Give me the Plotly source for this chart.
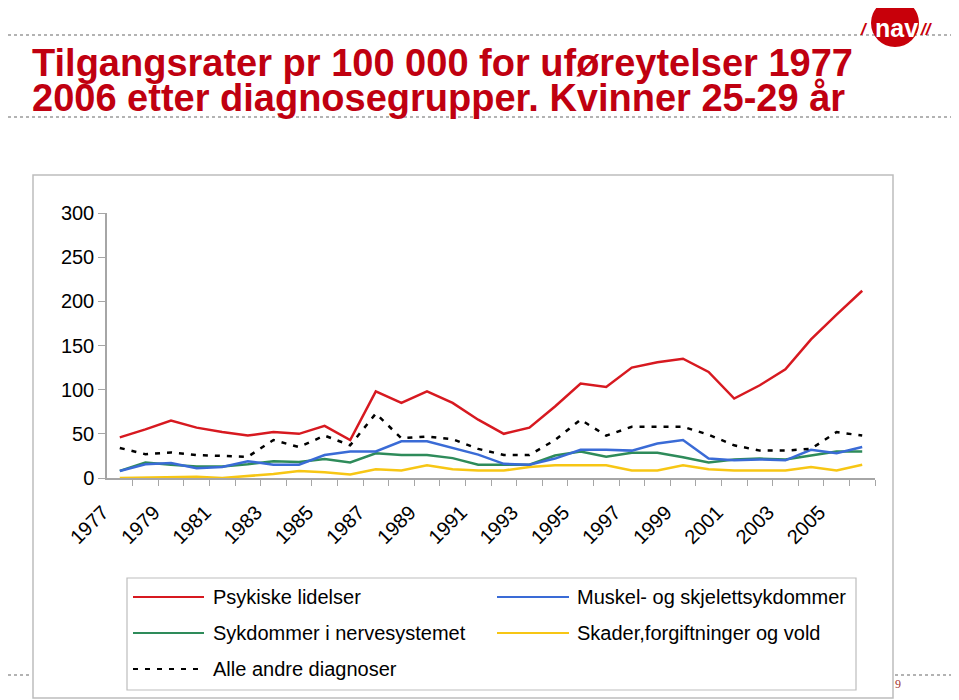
import plotly.graph_objects as go

years = list(range(1977, 2007))
psykiske = [46, 55, 65, 57, 52, 48, 52, 50, 59, 43, 98, 85, 98, 85, 66, 50, 57, 81, 107, 103,
            125, 131, 135, 120, 90, 105, 123, 157, 185, 212]
muskel = [8, 15.5, 17, 11, 12.5, 19, 15, 15, 26, 30, 30, 41.5, 41.5, 34, 26.5, 16, 15, 22, 32, 32,
          31, 39, 43, 22, 20, 21, 20, 32, 28, 35]
nerve = [8, 17.5, 15, 13, 13, 15.5, 19, 18, 21.5, 17.5, 28, 26, 26, 22.5, 15, 15, 15, 25.5, 30, 24,
         28.5, 28.5, 23.5, 17.5, 21, 22, 21, 25.5, 30, 30]
skader = [0, 0.5, 1.5, 1.5, 0, 2, 4.5, 8, 6.5, 4, 10, 8.5, 14.5, 10, 8.5, 8.5, 12.5, 14.5, 14.5, 14.5,
          8.5, 8.5, 14.5, 10, 8.5, 8.5, 8.5, 12.5, 8.5, 15]
andre = [34, 27, 29, 26, 25, 24, 43, 35, 48, 37, 73, 45, 47, 44, 33, 26, 26, 43, 66, 48,
         58, 58, 58, 49, 37, 31, 31, 33, 52, 48]

label_years = list(range(1977, 2006, 2))
y_ticks = [0, 50, 100, 150, 200, 250, 300]

series_names = ["Psykiske lidelser", "Muskel- og skjelettsykdommer",
                "Sykdommer i nervesystemet", "Skader,forgiftninger og vold",
                "Alle andre diagnoser"]

# page body has an 8px margin; figure sized to fill the rest of the window
OFF = 8
W, H = 959 - OFF, 700 - OFF
def X(px):
    return (px - OFF) / W
def Y(py):
    return 1 - (py - OFF) / H

RED = "#D71920"
BLUE = "#3A6BD6"
GREEN = "#2E8B5A"
YELLOW = "#F7C614"
BLACK = "#000000"
DASH = "5px,7px"
FONT = "Liberation Sans, Arial, sans-serif"
AXIS = "#A6A6A6"

styles = [
    (psykiske, RED, "solid"),
    (muskel, BLUE, "solid"),
    (nerve, GREEN, "solid"),
    (skader, YELLOW, "solid"),
    (andre, BLACK, DASH),
]

fig = go.Figure()
for idx in [3, 2, 1, 4, 0]:
    vals, col, dash = styles[idx]
    fig.add_trace(go.Scatter(x=years, y=vals, mode="lines", name=series_names[idx],
                             line=dict(color=col, width=2.5, dash=dash),
                             showlegend=False))

shapes = []
annotations = []

# chart box
shapes.append(dict(type="rect", xref="paper", yref="paper", x0=X(33), x1=X(893), y0=Y(698), y1=Y(175),
                   line=dict(color="#BDBDBD", width=1.5), fillcolor="white", layer="below"))
# dotted header/footer lines
for y in [35, 117]:
    shapes.append(dict(type="line", xref="paper", yref="paper", x0=0, x1=1, y0=Y(y), y1=Y(y),
                       line=dict(color="#9A9A9A", width=1.5, dash="dot"), layer="below"))
shapes.append(dict(type="line", xref="paper", yref="paper", x0=0, x1=X(32), y0=Y(675), y1=Y(675),
                   line=dict(color="#9A9A9A", width=1.5, dash="dot"), layer="below"))
shapes.append(dict(type="line", xref="paper", yref="paper", x0=X(895), x1=1, y0=Y(675), y1=Y(675),
                   line=dict(color="#9A9A9A", width=1.5, dash="dot"), layer="below"))
# logo circle
shapes.append(dict(type="circle", xref="paper", yref="paper", x0=X(871), x1=X(919), y0=Y(47), y1=Y(-1),
                   line=dict(color="#C8000A", width=0), fillcolor="#C8000A"))
annotations.append(dict(text="<b>nav</b>", x=X(896), y=Y(28), xref="paper", yref="paper",
                        xanchor="center", yanchor="middle", showarrow=False,
                        font=dict(family=FONT, size=25, color="white")))
annotations.append(dict(text="<b><i>/</i></b>", x=X(864), y=Y(29), xref="paper", yref="paper",
                        xanchor="center", yanchor="middle", showarrow=False,
                        font=dict(family=FONT, size=17, color="#C8000A")))
annotations.append(dict(text="<b><i>//</i></b>", x=X(926), y=Y(29), xref="paper", yref="paper",
                        xanchor="center", yanchor="middle", showarrow=False,
                        font=dict(family=FONT, size=17, color="#C8000A")))

# title
TITLE_COL = "#C00010"
annotations.append(dict(text="<b>Tilgangsrater pr 100 000 for uføreytelser 1977</b>", x=X(30), y=Y(86),
                        xref="paper", yref="paper", xanchor="left", yanchor="bottom", showarrow=False,
                        font=dict(family=FONT, size=38, color=TITLE_COL)))
annotations.append(dict(text="<b>2006 etter diagnosegrupper. Kvinner 25-29 år</b>", x=X(30), y=Y(121),
                        xref="paper", yref="paper", xanchor="left", yanchor="bottom", showarrow=False,
                        font=dict(family=FONT, size=38, color=TITLE_COL)))

# legend (manual)
shapes.append(dict(type="rect", xref="paper", yref="paper", x0=X(127), x1=X(856), y0=Y(690), y1=Y(578),
                   line=dict(color="#BDBDBD", width=1.2), fillcolor="white"))
legend_items = [
    (0, 133, 204, 211, 597),
    (1, 497, 569, 575, 597),
    (2, 133, 204, 211, 633),
    (3, 497, 569, 575, 633),
    (4, 133, 204, 211, 669),
]
for idx, lx0, lx1, tx, ty in legend_items:
    vals, col, dash = styles[idx]
    shapes.append(dict(type="line", xref="paper", yref="paper", x0=X(lx0), x1=X(lx1), y0=Y(ty), y1=Y(ty),
                       line=dict(color=col, width=2.2, dash=dash)))
    annotations.append(dict(text=series_names[idx], x=X(tx), y=Y(ty), xref="paper", yref="paper",
                            xanchor="left", yanchor="middle", showarrow=False,
                            font=dict(family=FONT, size=20, color="black")))

# page number
annotations.append(dict(text="9", x=X(898), y=Y(684), xref="paper", yref="paper",
                        xanchor="center", yanchor="middle", showarrow=False,
                        font=dict(family="Liberation Serif, serif", size=12, color="#A03030")))

fig.update_layout(
    template="none",
    width=W, height=H,
    margin=dict(l=0, r=0, t=0, b=0, pad=0, autoexpand=False),
    paper_bgcolor="white",
    plot_bgcolor="rgba(0,0,0,0)",
    shapes=shapes,
    annotations=annotations,
    showlegend=False,
    xaxis=dict(
        automargin=False,
        domain=[X(107), X(875)],
        range=[1976.5, 2006.5],
        tickmode="array",
        tickvals=label_years,
        ticktext=[str(y) for y in label_years],
        ticks="",
        tickangle=-45,
        ticklabelshift=-17,
        ticklabelstandoff=13,
        tickfont=dict(family=FONT, size=20, color="black"),
        showline=True, linecolor=AXIS, linewidth=1.5,
        showgrid=False, zeroline=False,
        minor=dict(tickmode="array", tickvals=[y + 0.5 for y in years], ticks="outside",
                   ticklen=6, tickcolor=AXIS, tickwidth=1, showgrid=False),
    ),
    yaxis=dict(
        automargin=False,
        domain=[Y(478), Y(213)],
        range=[0, 300],
        tickmode="array",
        tickvals=y_ticks,
        ticks="outside", ticklen=7, tickcolor=AXIS, tickwidth=1,
        tickfont=dict(family=FONT, size=20, color="black"),
        showline=True, linecolor=AXIS, linewidth=1.5,
        showgrid=False, zeroline=False,
    ),
)

fig.write_html("out.html")
